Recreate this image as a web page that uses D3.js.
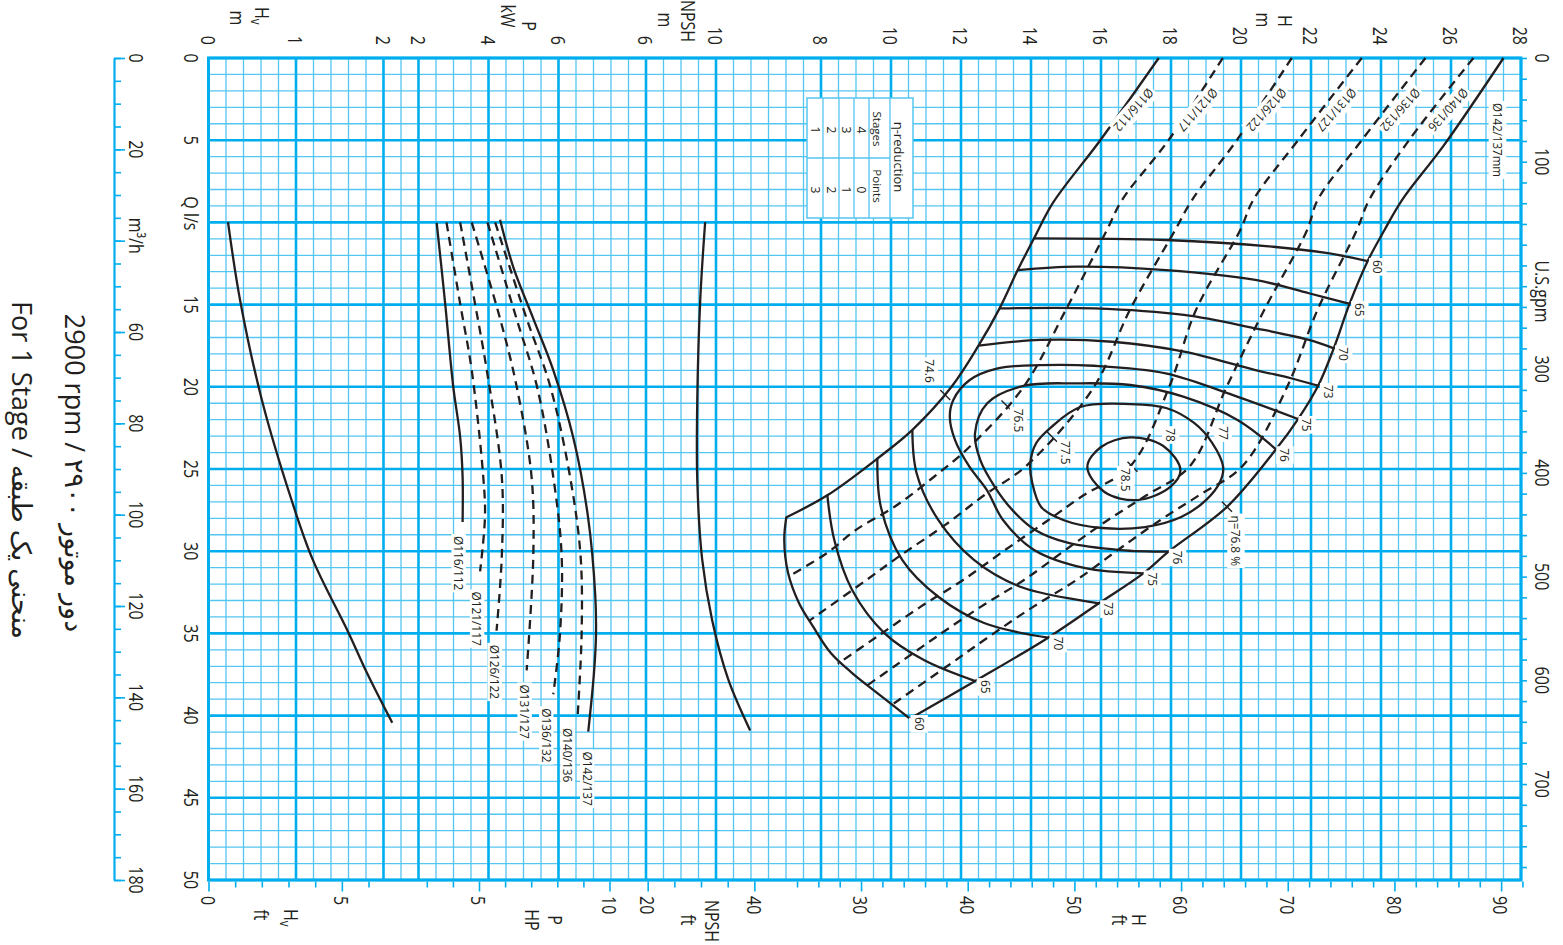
<!DOCTYPE html>
<html><head><meta charset="utf-8">
<script src="https://cdn.jsdelivr.net/npm/d3@7"></script>
<style>
html,body{margin:0;padding:0;background:#fff;}
svg text{font-family:"Open Sans","DejaVu Sans",sans-serif;fill:#231f20;}
</style></head>
<body>
<svg id="chart" width="1563" height="945"></svg>
<script>
// ================= DATA =================
// flow axis ticks
const qLabels = [0,5,15,20,25,30,35,40,45,50];
const m3hLabels = [0,20,60,80,100,120,140,160,180];
const m3hMinor = d3.range(0,181,5);
const gpmLabels = [0,100,300,400,500,600,700];
const gpmMinor = d3.range(0,781,20);
// value axis ticks (top)
const hvTop = [0,1,2];
const pTop = [2,4,6];
const npshTop = [6,10];
const hTop = [8,10,12,14,16,18,20,22,24,26,28];
// value axis ticks (bottom, imperial)
const hvFtLabels = [0,5];
const hvFtMinor = [0,1,2,3,4,5,6];
const hpLabels = [5,10];
const hpMinor = [3,4,5,6,7,8,9,10];
const npshFtLabels = [20,40];
const npshFtMinor = [20,25,30,35,40];
const hFtLabels = [30,40,50,60,70,80,90];
const hFtMinor = d3.range(24,93,2);

const diameters = ["Ø116/112","Ø121/117","Ø126/122","Ø131/127","Ø136/132","Ø140/136","Ø142/137"];

// H-Q curves  [Q l/s, H m]
const hq116 = [[0,17.65],[5,15.98],[8.8,14.63],[11,14.08],[12.9,13.62],[15.2,13.11],[17.5,12.5],[20,11.73],[22.6,10.62],[24.3,9.65],[26.6,8.18],[27.95,7.0]];
const hq121 = [[0,19.48],[5,17.93],[8.64,16.6],[10.46,16.17],[15.3,15.0],[20,13.79],[23.6,12.27],[25.47,11.23],[27.3,10.1],[28.7,9.0],[30.1,8.18],[31.55,7.06]];
const hq126 = [[0,21.45],[5,19.88],[8.64,18.6],[10.46,18.12],[15.3,16.83],[20,15.8],[24.76,13.89],[26.6,12.66],[28.4,11.55],[30.33,10.22],[31.75,9.3],[33.6,8.08],[34.22,7.67]];
const hq131 = [[0,23.45],[5,21.63],[8.64,20.35],[10.46,19.98],[15.3,18.72],[20,17.95],[24.8,16.85],[26.6,15.5],[28.1,14.5],[29.9,13.28],[31.75,12.06],[33.4,10.83],[35.2,9.6],[36.85,8.48]];
const hq136 = [[0,25.27],[5,23.45],[8.64,22.19],[10.46,21.89],[15.3,20.67],[20,19.59],[24.8,18.55],[26.6,17.3],[28.1,16.2],[29.9,15.0],[31.75,13.8],[33.4,12.55],[35.2,11.3],[37,10.1],[38.15,9.33]];
const hq140 = [[0,26.64],[5,24.8],[8.64,23.66],[10.46,23.31],[15.3,22.19],[20,21.32],[24.8,20.05],[26.6,18.8],[28.1,17.7],[29.9,16.5],[31.75,15.3],[33.4,14.05],[35.2,12.8],[37,11.6],[39.34,10.03]];
const hq142 = [[0,27.5],[5.3,25.8],[8.64,24.6],[10.46,24.1],[12.35,23.62],[14.96,23.1],[17.66,22.65],[19.95,22.2],[21.96,21.63],[23.8,21.0],[27.3,19.6],[30.03,17.93],[31.35,17.21],[33.17,15.94],[35.26,14.49],[37.88,12.42],[40.16,10.56]];

// efficiency iso-lines [Q l/s, H m]
const eff60Upper = [[10.97,14.08],[11.07,17.85],[11.48,20.92],[11.86,22.43],[12.35,23.62]];
const eff65Upper = [[12.9,13.62],[12.69,15.3],[12.9,17.85],[13.5,20.41],[14.31,21.94],[14.96,23.11]];
const eff70Upper = [[15.23,13.11],[15.23,15.81],[15.63,18.37],[16.44,20.41],[17.15,21.94],[17.66,22.65]];
const eff73Upper = [[17.5,12.5],[17.15,14.28],[17.26,16.32],[17.86,18.37],[18.98,20.41],[19.48,21.43],[19.95,22.22]];
const eff75 = [[21.96,21.63],[20.6,19.89],[19.18,17.85],[18.72,15.8],[18.68,14.27],[18.88,13.05],[19.6,12.24],[20.8,11.78],[21.82,11.68],[23.24,11.83],[24.86,12.24],[26.28,12.74],[28.1,13.2],[29.93,14.09],[31.02,15.52],[31.35,17.21]];
const eff76 = [[23.8,21.0],[22.02,19.9],[20.6,18.35],[19.89,16.84],[19.79,15.3],[19.95,13.78],[21.0,12.75],[22.83,12.4],[24.45,12.55],[26.07,12.96],[27.5,13.47],[28.71,14.12],[29.5,15.07],[29.93,16.55],[30.03,17.93]];
const eff77 = [[24.64,13.98],[23.42,14.15],[22.45,14.58],[21.23,15.41],[21.05,16.83],[21.29,17.86],[22.2,18.66],[23.42,19.18],[24.88,19.49],[25.79,19.4],[26.89,19.0],[27.92,18.29],[28.53,17.26],[28.59,16.03],[28.1,14.92],[27.31,14.29],[25.79,14.03]];
const eff78 = [[24.88,15.61],[23.66,16.0],[23.08,16.84],[23.6,17.78],[25.06,18.27],[26.09,17.98],[26.89,17.04],[26.4,16.1]];
const eff73Lower = [[22.63,10.61],[25.24,10.73],[28.1,11.35],[30.53,12.37],[32.16,13.69],[33.17,15.94]];
const eff70Lower = [[24.33,9.61],[27.3,9.71],[30.53,10.32],[32.77,11.35],[34.37,12.66],[35.26,14.49]];
const eff65Lower = [[26.58,8.18],[29.32,8.38],[32.36,8.89],[34.98,9.81],[36.62,10.94],[37.9,12.41]];
const eff60Lower = [[27.92,7.01],[29.32,6.95],[31.33,7.06],[33.15,7.37],[34.61,7.78],[36.19,8.28],[37.41,8.89],[38.63,9.61],[40.15,10.52]];

// best-efficiency marks [Q, H, label]
const bepMarks = [[20.5,11.55,"74.6"],[21.14,13.3,"76.5"],[23.04,14.6,"77.5"],[24.86,16.9,"78.5"]];
const etaMark = [27.3,19.6,"η=76.8 %"];
const ellipseLabels = [[22.93,17.99,"78"],[22.81,19.49,"77"]];

// power curves [Q l/s, P kW]
const p116 = [[10.03,2.52],[14.89,2.76],[19.94,2.99],[23.05,3.19],[25.47,3.26],[28.22,3.26]];
const p121 = [[10,2.8],[14.94,3.19],[18.98,3.52],[25.47,3.85],[27.87,3.9],[31.23,3.76]];
const p126 = [[10,3.19],[15,3.62],[18.98,3.95],[25.47,4.38],[30.3,4.38],[34.84,4.23]];
const p131 = [[10,3.52],[15.85,4.33],[19.94,4.8],[25.47,5.23],[30.27,5.28],[37.25,5.09]];
const p136 = [[10,3.97],[15.85,4.8],[19.94,5.38],[25.47,5.85],[30.27,6.09],[35.08,6.04],[38.7,5.85]];
const p140 = [[10,4.19],[15.85,5.09],[19.94,5.76],[25.47,6.33],[30.27,6.63],[35.08,6.66],[39.9,6.55]];
const p142 = [[9.84,4.33],[12.73,4.71],[15.85,5.28],[18.98,5.85],[23.07,6.42],[27.87,6.84],[32.68,7.05],[35.2,7.07],[37.49,7.01],[40.97,6.85]];

// NPSH [Q, m] and velocity head [Q, m]
const npshCurve = [[9.98,9.38],[14.7,9.1],[20.8,8.93],[25.7,8.93],[30.5,9.21],[34.2,9.78],[37.8,10.7],[40.9,11.95]];
const hvCurve = [[9.98,0.223],[14.7,0.36],[20.8,0.61],[26.9,0.95],[30.5,1.19],[34.96,1.6],[37.4,1.81],[40.44,2.1]];

// eta-reduction table
const tableStages = ["4","3","2","1"];
const tablePoints = ["0","1","2","3"];

// ================= LAYOUT =================
const INK = "#231f20", BLUE = "#00aeef", BLUE_T = "#55c5f1";
const svg = d3.select("#chart");
svg.append("rect").attr("width",1563).attr("height",945).attr("fill","#fff");

const gridX = d3.scaleLinear().domain([0,75]).range([208.5,1521]);
const yQ = d3.scaleLinear().domain([0,50]).range([58,880]);
const yM3h = d3.scaleLinear().domain([0,180]).range(yQ.range());
const yGpm = d3.scaleLinear().domain([0,50*15.850]).range(yQ.range());
const xHv = d3.scaleLinear().domain([0,2]).range([gridX(0),gridX(10)]);
const xP = d3.scaleLinear().domain([2,6]).range([gridX(12),gridX(20)]);
const xN = d3.scaleLinear().domain([6,10]).range([gridX(25),gridX(29)]);
const xH = d3.scaleLinear().domain([8,28]).range([gridX(35),gridX(75)]);
const FT = 0.3048, HPKW = 0.7457;
const xHvFt = d3.scaleLinear().domain([0,2/FT]).range(xHv.range());
const xHP = d3.scaleLinear().domain([2/HPKW,6/HPKW]).range(xP.range());
const xNft = d3.scaleLinear().domain([6/FT,10/FT]).range(xN.range());
const xHft = d3.scaleLinear().domain([8/FT,28/FT]).range(xH.range());

function rotText(parent, x, y, str, o = {}) {
  const size = o.size || 20, anchor = o.anchor || "middle", sq = o.sq || 1;
  const ang = (o.angle == null ? 90 : o.angle);
  const g = parent.append("g").attr("transform", `translate(${x},${y}) rotate(${ang})`);
  const t = g.append("text").attr("text-anchor", anchor).attr("dominant-baseline", "central")
    .attr("font-size", size);
  if (o.family) t.style("font-family", o.family);
  if (sq !== 1) t.attr("transform", `scale(${sq},1)`);
  if (Array.isArray(str)) {
    str.forEach(s => {
      const ts = t.append("tspan").text(s.t);
      if (s.sub) ts.attr("font-size", size * 0.72).attr("dy", size * 0.32);
    });
  } else t.text(str);
  if (o.bg) {
    const b = t.node().getBBox(), p = o.pad == null ? 2 : o.pad;
    const shrink = o.bgShrink || 0;
    g.insert("rect", "text").attr("x", b.x * sq - p).attr("y", b.y + shrink)
      .attr("width", b.width * sq + 2 * p).attr("height", b.height - 2 * shrink).attr("fill", "#fff");
  }
  return t;
}

// ---------- grid ----------
const thickCols = [0,5,10,12,16,20,25,29,35,39,43,47,51,55,59,63,67,71,75];
const gGrid = svg.append("g");
const cols = d3.range(0,76), rows = d3.range(0,51);
gGrid.selectAll("line.vc").data(cols.filter(c => !thickCols.includes(c))).join("line")
  .attr("x1", gridX).attr("x2", gridX).attr("y1", yQ(0)).attr("y2", yQ(50))
  .attr("stroke", BLUE_T).attr("stroke-width", 1.3);
gGrid.selectAll("line.hr").data(rows.filter(r => r % 5 !== 0)).join("line")
  .attr("x1", gridX(0)).attr("x2", gridX(75)).attr("y1", yQ).attr("y2", yQ)
  .attr("stroke", BLUE_T).attr("stroke-width", 1.3);
gGrid.selectAll("line.vct").data(thickCols).join("line")
  .attr("x1", gridX).attr("x2", gridX).attr("y1", yQ(0)).attr("y2", yQ(50))
  .attr("stroke", BLUE).attr("stroke-width", 2.6);
gGrid.selectAll("line.hrt").data(rows.filter(r => r % 5 === 0)).join("line")
  .attr("x1", gridX(0)).attr("x2", gridX(75)).attr("y1", yQ).attr("y2", yQ)
  .attr("stroke", BLUE).attr("stroke-width", 2.6);
gGrid.append("rect").attr("x", gridX(0)).attr("y", yQ(0)).attr("width", gridX(75) - gridX(0))
  .attr("height", yQ(50) - yQ(0)).attr("fill", "none").attr("stroke", BLUE).attr("stroke-width", 3);

// ---------- axes ----------
function styleAx(g, keepDomain) {
  g.selectAll("line,path").attr("stroke", BLUE).attr("stroke-width", 1.6);
  g.select(".domain").attr("stroke-width", 2.2);
  if (!keepDomain) g.select(".domain").remove();
  g.selectAll("text").remove();
}
const gAx = svg.append("g");
// left m3/h
gAx.append("g").attr("transform","translate(114,0)")
  .call(d3.axisRight(yM3h).tickValues(m3hMinor).tickSize(7).tickSizeOuter(0)).call(g => styleAx(g, true));
gAx.append("g").attr("transform","translate(114,0)")
  .call(d3.axisRight(yM3h).tickValues(m3hLabels.concat([40])).tickSize(11).tickSizeOuter(0)).call(g => styleAx(g, false));
// right gpm
gAx.append("g").attr("transform",`translate(${gridX(75)},0)`)
  .call(d3.axisRight(yGpm).tickValues(gpmMinor).tickSize(6).tickSizeOuter(0)).call(g => styleAx(g, false));
// bottom imperial
const yb = yQ(50) + 1.5;
[[xHvFt, hvFtMinor, hvFtLabels],[xHP, hpMinor, hpLabels],[xNft, npshFtMinor, npshFtLabels],[xHft, hFtMinor, hFtLabels]]
  .forEach(([sc, minor, major]) => {
    gAx.append("g").attr("transform",`translate(0,${yb})`)
      .call(d3.axisBottom(sc).tickValues(minor.filter(v => !major.includes(v))).tickSize(6).tickSizeOuter(0)).call(g => styleAx(g, false));
    gAx.append("g").attr("transform",`translate(0,${yb})`)
      .call(d3.axisBottom(sc).tickValues(major).tickSize(10).tickSizeOuter(0)).call(g => styleAx(g, false));
  });

// ---------- tick labels ----------
const gL = svg.append("g");
const TS = 20, SQ = 0.8;
qLabels.forEach(v => rotText(gL, 192, yQ(v), String(v), {size: TS, sq: SQ}));
rotText(gL, 192, yQ(10) - 9, "Q l/s", {size: TS, sq: SQ});
m3hLabels.forEach(v => rotText(gL, 137, yM3h(v), String(v), {size: TS, sq: SQ}));
rotText(gL, 137, yM3h(40) - 5, "m³/h", {size: TS, sq: SQ});
const xR = 1543;
gpmLabels.forEach(v => rotText(gL, xR, yGpm(v), String(v), {size: TS, sq: SQ}));
rotText(gL, xR, yGpm(200) + 26, "U.S.gpm", {size: TS, sq: SQ});
const yTop = 45;
hvTop.forEach(v => rotText(gL, xHv(v), yTop, String(v), {size: TS, sq: SQ, anchor: "end"}));
pTop.forEach(v => rotText(gL, xP(v), yTop, String(v), {size: TS, sq: SQ, anchor: "end"}));
npshTop.forEach(v => rotText(gL, xN(v), yTop, String(v), {size: TS, sq: SQ, anchor: "end"}));
hTop.forEach(v => rotText(gL, xH(v), yTop, String(v), {size: TS, sq: SQ, anchor: "end"}));
const yBot = 896;
hvFtLabels.forEach(v => rotText(gL, xHvFt(v), yBot, String(v), {size: TS, sq: SQ, anchor: "start"}));
hpLabels.forEach(v => rotText(gL, xHP(v), yBot, String(v), {size: TS, sq: SQ, anchor: "start"}));
npshFtLabels.forEach(v => rotText(gL, xNft(v), yBot, String(v), {size: TS, sq: SQ, anchor: "start"}));
hFtLabels.forEach(v => rotText(gL, xHft(v), yBot, String(v), {size: TS, sq: SQ, anchor: "start"}));

// axis titles
rotText(gL, 263, 7, [{t:"H"},{t:"v",sub:true}], {size: TS, sq: SQ, anchor: "start"});
rotText(gL, 238, 18, "m", {size: TS, sq: SQ});
rotText(gL, 530, 26, "P", {size: TS, sq: SQ});
rotText(gL, 509, 16, "kW", {size: TS, sq: SQ});
rotText(gL, 689, 21, "NPSH", {size: TS, sq: SQ});
rotText(gL, 666, 20, "m", {size: TS, sq: SQ});
rotText(gL, 1286, 21, "H", {size: TS, sq: SQ});
rotText(gL, 1264, 20, "m", {size: TS, sq: SQ});
rotText(gL, 292, 909, [{t:"H"},{t:"v",sub:true}], {size: TS, sq: SQ, anchor: "start"});
rotText(gL, 262, 915, "ft", {size: TS, sq: SQ});
rotText(gL, 556, 920, "P", {size: TS, sq: SQ});
rotText(gL, 533, 920, "HP", {size: TS, sq: SQ});
rotText(gL, 713, 921, "NPSH", {size: TS, sq: SQ});
rotText(gL, 689, 920, "ft", {size: TS, sq: SQ});
rotText(gL, 1140, 920, "H", {size: TS, sq: SQ});
rotText(gL, 1120, 920, "ft", {size: TS, sq: SQ});

// titles
rotText(gL, 75, 473, "2900 rpm / دور موتور ۲۹۰۰", {size: 27});
rotText(gL, 22, 470, "For 1 Stage / منحنی یک طبقه", {size: 27});

// ---------- curves ----------
const gC = svg.append("g").attr("fill", "none").attr("stroke", INK).attr("stroke-width", 2.3);
const cr = d3.curveCatmullRom.alpha(0.5);
const lineHQ = d3.line().x(d => xH(d[1])).y(d => yQ(d[0])).curve(cr);
const lineHQc = d3.line().x(d => xH(d[1])).y(d => yQ(d[0])).curve(d3.curveCatmullRomClosed.alpha(0.5));
const lineP = d3.line().x(d => xP(d[1])).y(d => yQ(d[0])).curve(cr);
const lineN = d3.line().x(d => xN(d[1])).y(d => yQ(d[0])).curve(cr);
const lineHv = d3.line().x(d => xHv(d[1])).y(d => yQ(d[0])).curve(cr);
const DASH = "9 6";

const hqSets = [hq116, hq121, hq126, hq131, hq136, hq140, hq142];
const pSets = [p116, p121, p126, p131, p136, p140, p142];
hqSets.forEach((d, i) => gC.append("path").attr("d", lineHQ(d))
  .attr("stroke-dasharray", (i === 0 || i === 6) ? null : DASH));
pSets.forEach((d, i) => gC.append("path").attr("d", lineP(d))
  .attr("stroke-dasharray", (i === 0 || i === 6) ? null : DASH));
[eff60Upper, eff65Upper, eff70Upper, eff73Upper, eff75, eff76, eff73Lower, eff70Lower, eff65Lower, eff60Lower]
  .forEach(d => gC.append("path").attr("d", lineHQ(d)));
[eff77, eff78].forEach(d => gC.append("path").attr("d", lineHQc(d)));
gC.append("path").attr("d", lineN(npshCurve));
gC.append("path").attr("d", lineHv(hvCurve));

// BEP ticks
bepMarks.concat([etaMark]).forEach(m => {
  const x = xH(m[1]), y = yQ(m[0]);
  gC.append("line").attr("x1", x - 5).attr("y1", y - 5).attr("x2", x + 5).attr("y2", y + 5).attr("stroke-width", 1.4);
});

// ---------- curve labels ----------
const gT = svg.append("g");
const LS = 12.5;
// diameter labels at top (slanted)
hqSets.slice(0, 6).forEach((d, i) => {
  rotText(gT, xH(d[0][1]) - 25, yQ(d[0][0]) + 52, diameters[i], {size: LS, angle: 132, bg: true, sq: 0.92});
});
rotText(gT, xH(hq142[0][1]) - 6, yQ(hq142[0][0]) + 82, diameters[6] + "mm", {size: LS, bg: true, sq: 0.92});
// power labels (label offsets relative to the curve ends)
const pLabelDx = [-4,-3,-2,-2,-7,-10,-1];
const pLabelDy = [14,20,14,14,14,14,20];
pSets.forEach((d, i) => {
  const e = d[d.length - 1];
  rotText(gT, xP(e[1]) + pLabelDx[i], yQ(e[0]) + pLabelDy[i], diameters[i],
    {size: LS, anchor: "start", bg: true, sq: 0.95, pad: 2, bgShrink: 1.5});
});
// efficiency labels at curve ends
const effEnds = [[eff60Upper,"60"],[eff65Upper,"65"],[eff70Upper,"70"],[eff73Upper,"73"],
  [eff73Lower,"73"],[eff70Lower,"70"],[eff65Lower,"65"],[eff60Lower,"60"]];
effEnds.forEach(([d, l]) => {
  const e = d[d.length - 1];
  rotText(gT, xH(e[1]) + 10, yQ(e[0]) - 1, l, {size: LS, anchor: "start", bg: true, sq: 0.95});
});
[[eff75,"75"],[eff76,"76"]].forEach(([d, l]) => {
  [d[0], d[d.length - 1]].forEach(e =>
    rotText(gT, xH(e[1]) + 9, yQ(e[0]) - 1, l, {size: LS, anchor: "start", bg: true, sq: 0.95}));
});
const bepOffsets = [[-16,-24],[12,15],[14,16],[-7,13]];
bepMarks.forEach((m, i) => rotText(gT, xH(m[1]) + bepOffsets[i][0], yQ(m[0]) + bepOffsets[i][1], m[2], {size: LS, bg: true, sq: 0.95}));
rotText(gT, xH(etaMark[1]) + 9, yQ(etaMark[0]) + 34, etaMark[2], {size: LS, bg: true, sq: 0.95});
ellipseLabels.forEach(m => rotText(gT, xH(m[1]), yQ(m[0]), m[2], {size: LS, bg: true, sq: 0.95}));

// ---------- eta-reduction table ----------
const gTab = svg.append("g");
const tx0 = 807, tx1 = 913, ty0 = 98, ty1 = 218, tym = 158;
const tCols = [823, 839, 854, 869, 890];
gTab.append("rect").attr("x", tx0).attr("y", ty0).attr("width", tx1 - tx0).attr("height", ty1 - ty0)
  .attr("fill", "#fff").attr("stroke", BLUE_T).attr("stroke-width", 1.5);
tCols.forEach(x => gTab.append("line").attr("x1", x).attr("x2", x).attr("y1", ty0).attr("y2", ty1)
  .attr("stroke", BLUE_T).attr("stroke-width", 1.3));
gTab.append("line").attr("x1", tx0).attr("x2", 890).attr("y1", tym).attr("y2", tym)
  .attr("stroke", BLUE_T).attr("stroke-width", 1.3);
rotText(gTab, 899, 157, "η-reduction", {size: 13});
rotText(gTab, 877, 129, "Stages", {size: 11.5});
rotText(gTab, 877, 186, "Points", {size: 11.5});
const rowX = [861.5, 846.5, 831, 815];
tableStages.forEach((s, i) => rotText(gTab, rowX[i], 130, s, {size: 12}));
tablePoints.forEach((s, i) => rotText(gTab, rowX[i], 190, s, {size: 12}));
</script>
</body></html>
